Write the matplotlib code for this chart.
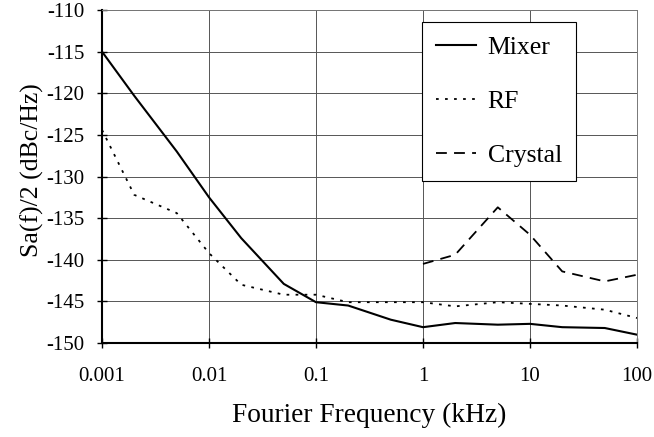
import numpy as np
import matplotlib
matplotlib.use("Agg")
import matplotlib.pyplot as plt

plt.rcParams['font.family'] = ['Liberation Serif', 'DejaVu Serif']
plt.rcParams['axes.unicode_minus'] = False

freq = [0.001, 0.002, 0.005, 0.01, 0.02, 0.05, 0.1, 0.2, 0.5, 1, 2, 5, 10, 20, 50, 100]
mixer = [-115, -120.3, -127.0, -132.5, -137.4, -142.9, -145.1, -145.5, -147.2,
         -148.1, -147.6, -147.8, -147.7, -148.1, -148.2, -149.0]
rf = [-124.4, -132.2, -134.4, -139.2, -143.0, -144.2, -144.2, -145.1, -145.1,
      -145.1, -145.6, -145.1, -145.3, -145.5, -146.0, -147.0]
crystal_freq = [1, 2, 5, 10, 20, 50, 100]
crystal = [-140.5, -139.4, -133.7, -137.0, -141.4, -142.6, -141.8]

xticks = [0.001, 0.01, 0.1, 1, 10, 100]
xticklabels = ['0.001', '0.01', '0.1', '1', '10', '100']
yticks = np.arange(-150, -109, 5)

fig = plt.figure(figsize=(6.54, 4.37), dpi=100)
ax = fig.add_axes([102/654, 1-343/437, 535/654, 333/437])

ax.plot(freq, mixer, color='black', lw=1.5, label='Mixer')
ax.plot(freq, rf, color='black', lw=1.3, ls=(0, (1.5, 3.5)), label='RF')
ax.plot(crystal_freq, crystal, color='black', lw=1.3, ls=(0, (6, 4)), label='Crystal')

ax.set_xscale('log')
ax.set_xlim(0.001, 100)
ax.set_ylim(-150, -110)
ax.set_xticks(xticks)
ax.set_xticklabels(xticklabels)
ax.minorticks_off()
ax.set_yticks(yticks)
ax.grid(True, color='#555555', lw=0.7)
ax.tick_params(axis='both', direction='inout', length=7, width=1, labelsize=15, pad=9)
ax.tick_params(axis='x', pad=14)
for s in ['top', 'right']:
    ax.spines[s].set_color('#777777')
    ax.spines[s].set_linewidth(0.7)
for s in ['left', 'bottom']:
    ax.spines[s].set_linewidth(1.5)

ax.set_ylabel('Sa(f)/2 (dBc/Hz)', fontsize=18.5)
ax.yaxis.set_label_coords(-0.109, 0.52)
ax.set_xlabel('Fourier Frequency (kHz)', fontsize=19.7, labelpad=12)

leg = ax.legend(loc='upper left', bbox_to_anchor=((422-102)/535, (343-22)/333),
                fontsize=18.5, frameon=True, fancybox=False, edgecolor='black',
                framealpha=1, handlelength=1.55, labelspacing=1.2,
                borderpad=0.55, handletextpad=0.45, borderaxespad=0)
leg.get_frame().set_linewidth(0.8)

fig.savefig('out.png', dpi=100)
